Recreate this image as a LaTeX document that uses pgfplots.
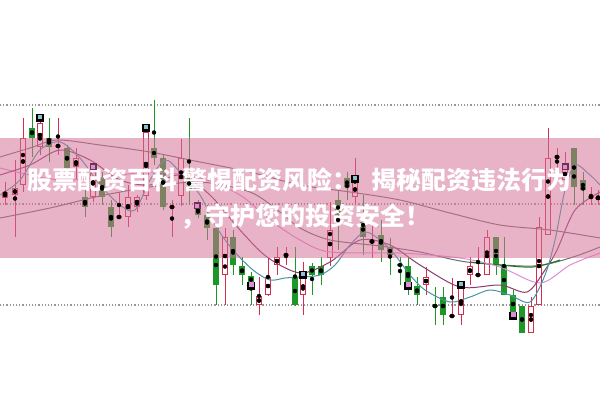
\documentclass[border=0pt]{standalone}
\usepackage{pgfplots}
\pgfplotsset{compat=1.18}
\usepackage{pgfplotstable}
\usepackage{fontspec}
\newfontfamily\cjk{Noto Sans CJK SC}
\definecolor{cred}{RGB}{214,45,78}
\definecolor{cgreen}{RGB}{30,150,40}
\definecolor{cteal}{RGB}{70,150,165}
\definecolor{cpurple}{RGB}{140,60,110}
\definecolor{cpink}{RGB}{225,140,215}
\definecolor{cdgrey}{RGB}{105,110,105}
\definecolor{cbrown}{RGB}{125,105,115}
\definecolor{cbanner}{RGB}{213,113,151}
\definecolor{cgrid}{RGB}{150,150,150}

\pgfplotstableread{
x h t b l
5 182 192 198 205
15 160 188 195 237
23 118 138 185 192
40 122 123 147 155
58 118 145 147 155
76 148 158 167 180
93 165 168 197 202
119 192 216 218 218
128 185 197 217 227
137 195 197 207 212
146 132 132 196 200
172 200 206 208 237
181 139 158 196 206
225 228 237 275 305
259 277 296 305 315
268 258 277 295 296
277 247 257 265 275
286 247 254 256 265
303 262 278 295 315
330 202 230 258 266
355 158 182 197 205
372 225 240 243 258
426 267 277 285 295
452 278 315 317 317
461 283 288 315 325
470 257 266 275 285
478 247 274 276 277
487 230 237 275 275
531 297 306 333 333
539 217 227 305 305
548 128 158 235 235
557 148 156 158 175
565 152 168 180 182
591 187 196 198 205
598 190 197 199 205
}\redtab

\pgfplotstableread{
x h t b l
32 108 128 138 157
49 118 138 147 162
67 145 148 168 172
85 190 197 207 217
102 172 177 197 205
111 200 207 227 237
154 100 148 158 165
163 155 158 207 210
189 118 177 190 205
198 200 208 215 218
207 205 215 228 240
216 225 228 285 305
233 230 237 265 275
242 257 266 275 285
251 272 276 283 305
295 247 277 305 306
312 263 266 275 295
321 257 266 275 285
338 190 200 215 250
347 172 178 187 200
363 195 222 237 255
381 220 235 250 262
390 238 247 255 275
400 257 264 266 285
408 257 266 282 295
417 277 286 295 305
435 287 305 307 325
443 287 297 315 325
496 237 237 265 275
504 237 265 295 295
513 290 295 313 318
522 306 306 333 333
574 148 148 187 205
583 172 180 190 205
}\greentab

\begin{document}
\begin{tikzpicture}
\begin{axis}[width=600bp, height=399bp, scale only axis,
  xmin=0, xmax=600, ymin=0, ymax=399, y dir=reverse, hide axis, clip=true]
\fill[white] (axis cs:0,0) rectangle (axis cs:600,399);
% grid lines
\foreach \yy in {105,204,305} {
  \edef\temp{\noexpand\draw[cgrid, line width=1.1bp, dash pattern=on 1.2bp off 2bp] (axis cs:0,\yy) -- (axis cs:600,\yy);}
  \temp
}
% wicks
\addplot[only marks, mark=none, forget plot, error bars/.cd, y dir=both, y explicit, error mark=none,
  error bar style={line width=1bp, draw=cred, solid}]
  table[x=x, y expr={(\thisrow{h}+\thisrow{l})/2}, y error expr={(\thisrow{l}-\thisrow{h})/2}] \redtab;
\addplot[only marks, mark=none, forget plot, error bars/.cd, y dir=both, y explicit, error mark=none,
  error bar style={line width=1bp, draw=cgreen, solid}]
  table[x=x, y expr={(\thisrow{h}+\thisrow{l})/2}, y error expr={(\thisrow{l}-\thisrow{h})/2}] \greentab;
% bodies
\addplot[only marks, mark=none, forget plot, error bars/.cd, y dir=both, y explicit, error mark=none,
  error bar style={line width=6bp, draw=cred, solid}]
  table[x=x, y expr={(\thisrow{t}+\thisrow{b})/2}, y error expr={max((\thisrow{b}-\thisrow{t})/2,0.7)}] \redtab;
\addplot[only marks, mark=none, forget plot, error bars/.cd, y dir=both, y explicit, error mark=none,
  error bar style={line width=4bp, draw=white, solid}]
  table[x=x, y expr={(\thisrow{t}+\thisrow{b})/2}, y error expr={max((\thisrow{b}-\thisrow{t})/2-1,0)}] \redtab;
\addplot[only marks, mark=none, forget plot, error bars/.cd, y dir=both, y explicit, error mark=none,
  error bar style={line width=6bp, draw=cgreen, solid}]
  table[x=x, y expr={(\thisrow{t}+\thisrow{b})/2}, y error expr={max((\thisrow{b}-\thisrow{t})/2,0.7)}] \greentab;
% moving averages
\addplot[cbrown, line width=1bp, smooth, tension=0.5] coordinates {
(0,157)(30,148)(57,140)(100,145)(150,152)(200,162)(250,172)(300,185)(350,192)(400,200)(450,213)(500,225)(550,230)(600,238)};
\addplot[cdgrey, line width=1bp, smooth, tension=0.5] coordinates {
(0,218)(50,208)(100,196)(150,187)(200,182)(250,192)(280,212)(300,228)(330,240)(380,246)(420,252)(467,262)(533,266)(570,258)(600,247)};
\addplot[cgreen!80!black, line width=1bp, smooth, tension=0.5] coordinates {
(470,262)(500,265)(533,267)(560,260)};
\addplot[cpink, line width=1bp, smooth, tension=0.5] coordinates {
(0,168)(30,175)(60,180)(100,178)(150,172)(200,178)(240,195)(270,220)(300,240)(330,252)(400,253)(460,258)(500,267)(540,283)(570,265)(600,253)};
\addplot[cpurple, line width=1bp, smooth, tension=0.5] coordinates {
(0,175)(30,165)(60,150)(90,160)(120,180)(150,185)(180,175)(210,195)(240,230)(267,257)(300,273)(330,262)(360,240)(390,245)(420,265)(460,287)(500,285)(527,292)(545,270)(557,250)(575,210)(600,192)};
\addplot[cteal, line width=1bp, smooth, tension=0.5] coordinates {
(0,195)(20,180)(40,150)(60,142)(80,158)(100,185)(120,205)(135,210)(150,180)(165,160)(180,172)(200,195)(215,225)(233,250)(253,270)(270,280)(285,278)(300,277)(320,275)(335,265)(350,245)(365,232)(380,240)(395,255)(410,275)(425,290)(450,302)(470,297)(490,290)(510,295)(530,302)(545,275)(555,240)(565,190)(575,165)(590,175)(600,185)};
% markers
\addplot[only marks, mark=square*, mark size=3.5bp, mark options={fill=black, draw=black}] coordinates {(40,118)(146,128)(303,275)(461,285)(355,179)(251,286)(408,286)(513,316)};
\addplot[only marks, mark=square*, mark size=1.6bp, mark options={fill=cteal!60!white, draw=cteal!60!white}] coordinates {(40,117)(146,127)(303,274)(461,284)(355,178)};
\addplot[only marks, mark=square*, mark size=2.2bp, mark options={fill=cpink, draw=cpink}] coordinates {(251,284)(408,284)(513,314)};
\addplot[only marks, mark=square*, mark size=3bp, mark options={fill=cpurple!80!black, draw=cpurple!80!black}] coordinates {(93,166)(197,205)(565,166)};
\addplot[only marks, mark=square*, mark size=1.5bp, mark options={fill=cpink, draw=cpink}] coordinates {(93,167)(197,206)(565,167)};
% banner
\fill[cbanner, opacity=0.53] (axis cs:0,138) rectangle (axis cs:600,258);
\node[anchor=west, text=white, inner sep=0pt, font=\cjk\bfseries\fontsize{25bp}{30bp}\selectfont] at (axis cs:27,180) {股票配资百科\hspace{5bp}警惕配资风险：\hspace{14bp}揭秘配资违法行为};
\node[anchor=west, text=white, inner sep=0pt, font=\cjk\bfseries\fontsize{25bp}{30bp}\selectfont] at (axis cs:180,217) {，守护您的投资安全！};
\end{axis}
\end{tikzpicture}
\end{document}
